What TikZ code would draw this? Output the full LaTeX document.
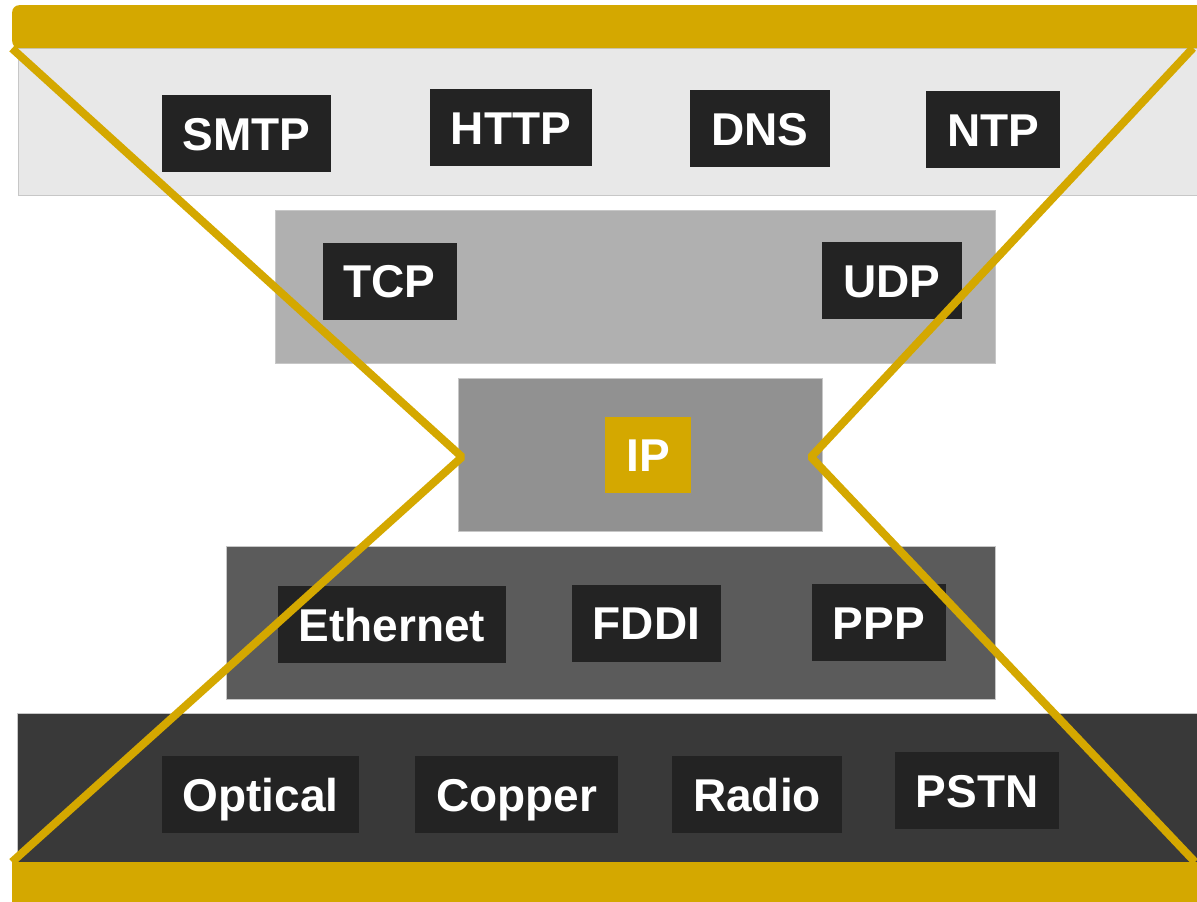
\documentclass[tikz,border=0pt]{standalone}
\usepackage{fontspec}
\setmainfont{Liberation Sans}
\definecolor{gold}{RGB}{212,168,0}
\definecolor{layapp}{RGB}{232,232,232}
\definecolor{laytrans}{RGB}{176,176,176}
\definecolor{laynet}{RGB}{145,145,145}
\definecolor{laylink}{RGB}{91,91,91}
\definecolor{layphys}{RGB}{57,57,57}
\definecolor{protofill}{RGB}{35,35,35}

\begin{document}
\begin{tikzpicture}[x=1pt,y=-1pt,
        layer/.style={draw=black!22,line width=0.5pt,inner sep=0pt,minimum height=153pt},
        proto/.style={fill=protofill,text=white,font=\fontsize{46}{48}\selectfont\bfseries,
            inner xsep=21pt,inner ysep=0pt,minimum height=77pt,text height=33pt,text depth=0pt},
        bar/.style={fill=gold,inner sep=0pt,anchor=north west},
        goldline/.style={draw=gold,line width=8pt,line join=bevel}]
                    \useasboundingbox (0,0) rectangle (1197,902);
                    \node[layer,fill=layapp,minimum width=1190pt,minimum height=147pt,anchor=north west] (app) at (18,48) {};
                    \node[layer,fill=laytrans,minimum width=720pt] (trans) at (635,286.5) {};
                    \node[layer,fill=laynet,minimum width=364pt] (net) at (640,454.5) {};
                    \node[layer,fill=laylink,minimum width=769pt] (link) at (610.5,622.5) {};
                    \node[layer,fill=layphys,minimum width=1190pt,minimum height=149pt,anchor=north west] (phys) at (17,713) {};
                    \node[proto] (smtp) at (246.5,133.5) {SMTP};
                    \node[proto] (http) at (511,127.5) {HTTP};
                    \node[proto] (dns) at (760,128.5) {DNS};
                    \node[proto] (ntp) at (993,129.5) {NTP};
                    \node[proto] (tcp) at (389.5,281) {TCP};
                    \node[proto] (udp) at (892,280.5) {UDP};
                    \node[proto,fill=gold,minimum width=86pt,minimum height=76pt] (ip) at (648,455) {IP};
                    \node[proto] (ethernet) at (392,624.5) {Ethernet};
                    \node[proto] (fddi) at (646.5,623) {FDDI};
                    \node[proto] (ppp) at (879,622.5) {PPP};
                    \node[proto] (optical) at (260.5,794.5) {Optical};
                    \node[proto] (copper) at (516.5,794.5) {Copper};
                    \node[proto] (radio) at (757,794.5) {Radio};
                    \node[proto] (pstn) at (977,790.5) {PSTN};
                    \coordinate (waistl) at (462,457);
                    \coordinate (waistr) at (811,457);
                    \coordinate (topr) at (1193,48);
                    \coordinate (botr) at (1195,862);
                    \node[bar,minimum width=1200pt,minimum height=43pt,rounded corners=7pt] (topbar) at (12,5) {};
                    \node[bar,minimum width=1200pt,minimum height=48pt] (botbar) at (12,862) {};
                    \draw[goldline] (topbar.south west) -- (waistl) -- (botbar.north west);
                    \draw[goldline] (topr) -- (waistr) -- (botr);
                \end{tikzpicture}
\end{document}
